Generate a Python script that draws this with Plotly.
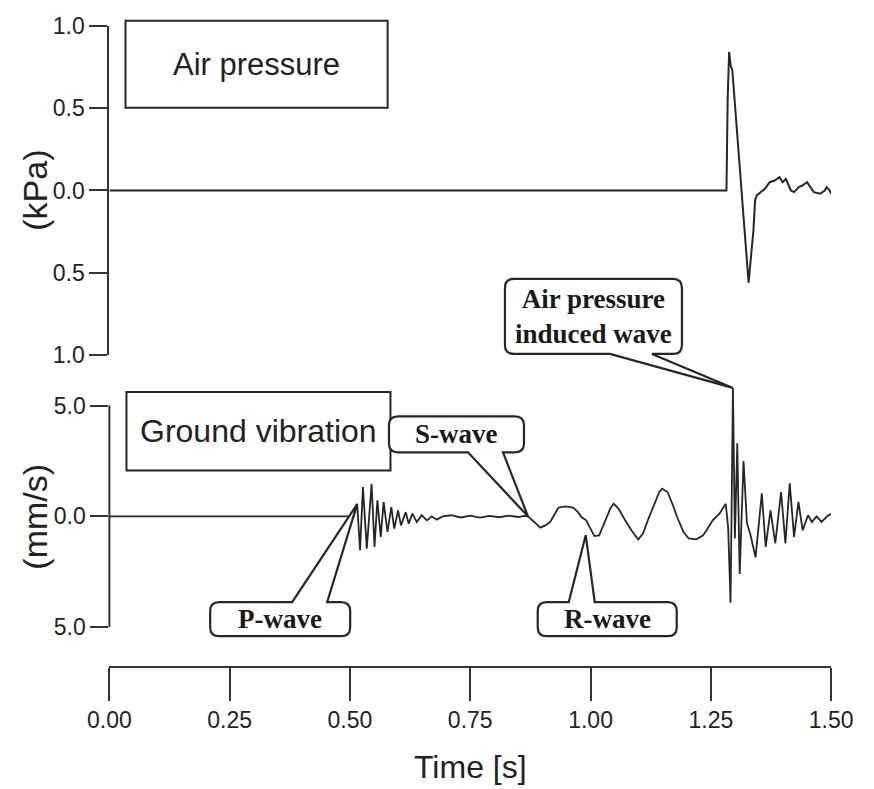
import plotly.graph_objects as go

# ---------------- data ----------------
time_ticks = [0.0, 0.25, 0.5, 0.75, 1.0, 1.25, 1.5]
time_labels = ["0.00", "0.25", "0.50", "0.75", "1.00", "1.25", "1.50"]

pressure_ticks = [1.0, 0.5, 0.0, -0.5, -1.0]
pressure_labels = ["1.0", "0.5", "0.0", "0.5", "1.0"]

velocity_ticks = [5.0, 0.0, -5.0]
velocity_labels = ["5.0", "0.0", "5.0"]

# air over-pressure record (kPa)
air_t = [0.000, 1.2825, 1.2850, 1.2880, 1.2910, 1.2947, 1.3285, 1.3386, 1.3420,
         1.3454, 1.3623, 1.3724, 1.3825, 1.3926, 1.3994, 1.4060, 1.4163, 1.4230,
         1.4330, 1.4400, 1.4500, 1.4570, 1.4640, 1.4770, 1.4870, 1.4906, 1.4970,
         1.5000]
air_kpa = [0.00, 0.00, 0.55, 0.84, 0.76, 0.73, -0.56, -0.24, -0.06,
           -0.03, 0.01, 0.05, 0.06, 0.08, 0.05, 0.07, 0.00, -0.01,
           0.02, 0.03, 0.05, 0.02, -0.01, -0.02, 0.00, 0.02, 0.00,
           -0.02]

# ground vibration record (mm/s)
ground_t = [0.000, 0.508, 0.515, 0.521, 0.527, 0.535, 0.545, 0.551, 0.557, 0.564,
            0.570, 0.578, 0.586, 0.592, 0.600, 0.606, 0.616, 0.622, 0.630, 0.639,
            0.649, 0.660, 0.670, 0.680, 0.693, 0.710, 0.730, 0.750, 0.770, 0.790,
            0.810, 0.830, 0.850, 0.862, 0.870, 0.886, 0.896, 0.906, 0.916, 0.926,
            0.933, 0.947, 0.964, 0.974, 0.981, 0.991, 0.997, 1.008, 1.018, 1.031,
            1.041, 1.048, 1.058, 1.072, 1.085, 1.099, 1.109, 1.119, 1.133, 1.143,
            1.149, 1.160, 1.170, 1.180, 1.193, 1.204, 1.220, 1.234, 1.241, 1.254,
            1.268, 1.281, 1.286, 1.291, 1.296, 1.300, 1.305, 1.310, 1.318, 1.325,
            1.332, 1.343, 1.356, 1.364, 1.374, 1.384, 1.396, 1.405, 1.414, 1.423,
            1.432, 1.441, 1.452, 1.460, 1.470, 1.480, 1.494, 1.500]
ground_mms = [0.00, 0.00, 0.57, -1.53, 1.32, -1.46, 1.47, -1.38, 0.72, -0.93,
              0.65, -0.70, 0.42, -0.56, 0.27, -0.41, 0.19, -0.33, 0.12, -0.26,
              0.05, -0.18, 0.00, -0.15, 0.00, 0.05, -0.05, 0.03, -0.06, 0.02,
              -0.04, 0.03, -0.03, 0.02, 0.00, -0.33, -0.51, -0.41, -0.26, 0.12,
              0.39, 0.45, 0.39, 0.19, -0.03, -0.18, -0.41, -0.89, -0.86, -0.18,
              0.35, 0.57, 0.35, -0.18, -0.63, -1.05, -0.78, -0.18, 0.57, 1.10,
              1.25, 1.10, 0.57, -0.03, -0.70, -1.00, -1.04, -0.86, -0.63, -0.18,
              0.12, 0.57, -0.50, -3.90, 5.80, -1.00, 3.30, -2.60, 2.50, -0.30,
              -0.80, -1.85, 1.04, -1.38, 0.27, -1.22, 1.10, -1.22, 1.49, -0.93,
              0.65, -0.63, 0.05, -0.25, 0.00, -0.25, 0.05, 0.10]

# wave arrivals picked on the ground record
wave_names = ["P-wave", "S-wave", "R-wave", "Air pressure<br>induced wave"]
wave_t = [0.515, 0.870, 0.990, 1.296]
wave_v = [0.55, 0.00, -0.85, 5.80]

# ---------------- layout geometry (pixels) ----------------
W, H = 874, 789
PLOT_L, PLOT_R = 92, 852
TOP_Y1, TOP_Y0 = 13, 354          # +1.0 and -1.0 kPa
BOT_Y1, BOT_Y0 = 406, 635         # +5 and -5 mm/s
XAXIS_Y = 676
V_RANGE = [-5.7, 11.2]            # extra head-room for the callouts


def fx(x):
    return x / W


def fy(y):
    return 1 - y / H


px_per_mms = (BOT_Y0 - BOT_Y1) / (velocity_ticks[0] - velocity_ticks[-1])
zero_px = BOT_Y1 + velocity_ticks[0] * px_per_mms
bot_dom_top = zero_px - V_RANGE[1] * px_per_mms
bot_dom_bot = zero_px - V_RANGE[0] * px_per_mms

INK = "#262626"
AXC = "#333333"
SANS = "Liberation Sans, Arial, sans-serif"
SERIF = "Liberation Serif, Times New Roman, serif"

fig = go.Figure()
fig.add_trace(go.Scatter(x=air_t, y=air_kpa, mode="lines", xaxis="x", yaxis="y",
                         line=dict(color=INK, width=2), showlegend=False,
                         hoverinfo="skip"))
fig.add_trace(go.Scatter(x=ground_t, y=ground_mms, mode="lines", xaxis="x2", yaxis="y2",
                         line=dict(color=INK, width=1.8), showlegend=False,
                         hoverinfo="skip"))

ytickfont = dict(family=SANS, size=23, color="#222")
xtickfont = dict(family=SANS, size=23, color="#222")
fig.update_layout(
    width=W, height=H, margin=dict(l=0, r=0, t=0, b=0),
    paper_bgcolor="white", plot_bgcolor="rgba(0,0,0,0)",
    xaxis=dict(domain=[fx(PLOT_L), fx(PLOT_R)], range=[0, 1.5], visible=False,
               anchor="y"),
    yaxis=dict(domain=[fy(TOP_Y0), fy(TOP_Y1)], range=[-1, 1], anchor="x",
               showline=True, linecolor=AXC, linewidth=2, ticks="outside",
               ticklen=18, tickwidth=2, tickcolor=AXC, tickvals=pressure_ticks,
               ticktext=pressure_labels, tickfont=ytickfont, showgrid=False,
               zeroline=False),
    xaxis2=dict(domain=[fx(PLOT_L), fx(PLOT_R)], range=[0, 1.5], anchor="free",
                position=fy(XAXIS_Y), showline=True, linecolor=AXC, linewidth=2,
                ticks="outside", ticklen=33, tickwidth=2, tickcolor=AXC,
                tickvals=time_ticks, ticktext=time_labels, tickfont=xtickfont,
                ticklabeloverflow="allow", showgrid=False, zeroline=False),
    yaxis2=dict(domain=[fy(bot_dom_bot), fy(bot_dom_top)], range=V_RANGE, anchor="x2",
                showline=False, ticks="outside", ticklen=18, tickwidth=2,
                tickcolor=AXC, tickvals=velocity_ticks, ticktext=velocity_labels,
                tickfont=ytickfont, showgrid=False, zeroline=False),
)

shapes = []
# vertical axis line of the ground-vibration panel (only across the labelled span)
shapes.append(dict(type="line", xref="x2 domain", yref="y2", x0=0, x1=0,
                   y0=velocity_ticks[-1], y1=velocity_ticks[0],
                   line=dict(color=AXC, width=2)))

# panel title boxes
title_boxes = [("Air pressure", 109, 8, 385, 98, 31),
               ("Ground vibration", 110, 392, 388, 473, 32)]
annotations = []
for label, x0, y0, x1, y1, size in title_boxes:
    shapes.append(dict(type="rect", xref="paper", yref="paper", x0=fx(x0), x1=fx(x1),
                       y0=fy(y1), y1=fy(y0), line=dict(color=INK, width=2),
                       fillcolor="white", layer="above"))
    annotations.append(dict(x=fx((x0 + x1) / 2), y=fy((y0 + y1) / 2), xref="paper",
                            yref="paper", text=label, showarrow=False,
                            font=dict(family=SANS, size=size, color="#222"),
                            xanchor="center", yanchor="middle"))

# speech-bubble callouts: box (left, top, right, bottom) and tail base x's,
# in pixels relative to the pointed sample (screen y downwards)
bubble_geom = [
    ((-147, 98, -7, 132), (-65, -30), "top"),
    ((-139, -100, -4, -64), (-60, -25), "bottom"),
    ((-48, 67, 91, 101), (-17, 9), "top"),
    ((-228, -109, -51, -34), (-123, -81), "bottom"),
]


def bubble_path(box, tail, edge, r=9):
    l, t, rt, b = box
    if edge == "bottom":
        seq = [("M", tail[0], b), ("L", l + r, b), ("Q", l, b, l, b - r),
               ("L", l, t + r), ("Q", l, t, l + r, t), ("L", rt - r, t),
               ("Q", rt, t, rt, t + r), ("L", rt, b - r), ("Q", rt, b, rt - r, b),
               ("L", tail[1], b), ("L", 0, 0)]
    else:
        seq = [("M", tail[1], t), ("L", rt - r, t), ("Q", rt, t, rt, t + r),
               ("L", rt, b - r), ("Q", rt, b, rt - r, b), ("L", l + r, b),
               ("Q", l, b, l, b - r), ("L", l, t + r), ("Q", l, t, l + r, t),
               ("L", tail[0], t), ("L", 0, 0)]
    parts = []
    for seg in seq:
        cmd, vals = seg[0], seg[1:]
        coords = [f"{vals[i]},{-vals[i + 1]}" for i in range(0, len(vals), 2)]
        parts.append(cmd + " ".join(coords))
    return " ".join(parts) + " Z"


for name, t, v, (box, tail, edge) in zip(wave_names, wave_t, wave_v, bubble_geom):
    shapes.append(dict(type="path", xref="x2", yref="y2", xsizemode="pixel",
                       ysizemode="pixel", xanchor=t, yanchor=v,
                       path=bubble_path(box, tail, edge),
                       line=dict(color=INK, width=2.2), fillcolor="white",
                       layer="above"))
    cx = (box[0] + box[2]) / 2
    cy = (box[1] + box[3]) / 2
    annotations.append(dict(x=t, y=v, xref="x2", yref="y2", text=name,
                            showarrow=False, xshift=cx, yshift=-cy,
                            xanchor="center", yanchor="middle",
                            font=dict(family=SERIF, size=27, color="#1a1a1a",
                                      weight=700)))

# axis titles
side_font = dict(family=SANS, size=34, color="#222")
annotations.append(dict(x=fx(14), y=fy((TOP_Y0 + TOP_Y1) / 2), xref="paper", yref="paper",
                        text="(kPa)", textangle=-90, showarrow=False, font=side_font,
                        xanchor="center", yanchor="middle"))
annotations.append(dict(x=fx(14), y=fy(zero_px), xref="paper", yref="paper",
                        text="(mm/s)", textangle=-90, showarrow=False, font=side_font,
                        xanchor="center", yanchor="middle"))
annotations.append(dict(x=fx((PLOT_L + PLOT_R) / 2), y=fy(780), xref="paper", yref="paper",
                        text="Time [s]", showarrow=False,
                        font=dict(family=SANS, size=32, color="#222"),
                        xanchor="center", yanchor="middle"))

fig.update_layout(shapes=shapes, annotations=annotations)
fig.write_html("out.html")
